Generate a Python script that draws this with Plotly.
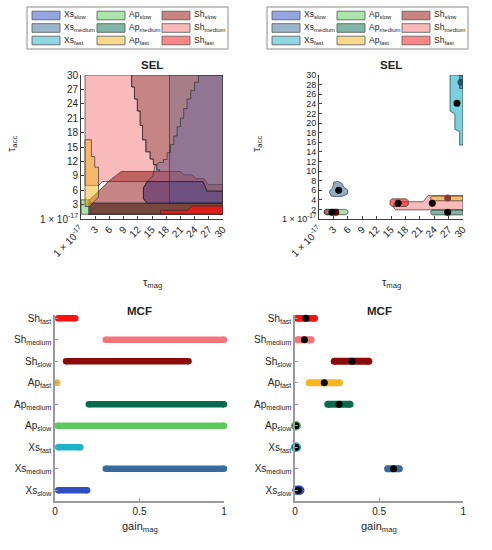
import plotly.graph_objects as go

# series, bottom to top as in the MCF panels
series = ["Xs_slow", "Xs_medium", "Xs_fast", "Ap_slow", "Ap_medium", "Ap_fast",
          "Sh_slow", "Sh_medium", "Sh_fast"]
labels = [s.split("_")[0] + "<sub>" + s.split("_")[1] + "</sub>" for s in series]
colors = {
    "Xs_slow": "#2f4ec6", "Xs_medium": "#3b6b9a", "Xs_fast": "#1eb2c9",
    "Ap_slow": "#5cc95c", "Ap_medium": "#066b4c", "Ap_fast": "#f7b61d",
    "Sh_slow": "#8b0b0b", "Sh_medium": "#f47578", "Sh_fast": "#ff1010",
}

# SEL tick labels
sel_x_ticks = [0, 3, 6, 9, 12, 15, 18, 21, 24, 27, 30]
sel_x_text = ["1 × 10<sup>-17</sup>"] + [str(v) for v in sel_x_ticks[1:]]
sel_left_y_ticks = sel_x_ticks
sel_left_y_text = sel_x_text
sel_right_y_ticks = list(range(0, 31, 2))
sel_right_y_text = ["1 × 10<sup>-17</sup>"] + [str(v) for v in sel_right_y_ticks[1:]]

# SEL left: regions (tau_mag, tau_acc)
stair = [(10.7, 30), (10.7, 27.5), (11.3, 27.5), (11.3, 25), (11.9, 25), (11.9, 22.5),
         (12.5, 22.5), (12.5, 19.5), (13.0, 19.5), (13.0, 16.5), (13.7, 16.5), (13.7, 14),
         (14.6, 14), (14.6, 12.5), (15.3, 12.5), (15.3, 11.3), (16.0, 11.3), (16.0, 10.2),
         (16.6, 10.2), (16.6, 9.9)]
sel_l_sh_medium = [(0.85, 30)] + stair + [
    (21, 9.9), (21.8, 9.2), (23.5, 9.2), (24.3, 8.4), (26, 8.4), (26.8, 7.2), (30, 7.2),
    (30, 5.8), (26.6, 5.8), (25.8, 7.8), (4.6, 7.8), (3.7, 7.0), (0.85, 7.0)]
sel_l_sh_slow = [(8.5, 9.9)] + stair[::-1] + [
    (30, 30), (30, 1.0), (1.6, 1.0), (1.6, 2.4), (0.85, 3.1), (5.8, 7.8)]
sel_l_lower_block = [(13.2, 4.2), (14, 3.3), (30, 3.3), (30, 5.8), (26.6, 5.8), (25.8, 7.8),
                     (14, 7.8), (13.2, 6.5)]
sel_l_sh_slow_low = [(1.6, 1), (30, 1)] + sel_l_lower_block[2:] + sel_l_lower_block[:2] + [
    (1.6, 3.3)]
sel_l_xs_medium = [(18.7, 30), (30, 30), (30, 3.3), (18.7, 3.3)]
sel_l_xs_slow = [(24.8, 30), (30, 30), (30, 3.3), (14, 3.3), (13.2, 4.2), (13.2, 6.5), (14, 7.8),
                 (15.2, 9), (15.6, 11), (16.5, 11.8), (17.4, 11.8), (17.4, 12.4), (18.2, 12.4),
                 (18.2, 13.8), (18.9, 13.8), (18.9, 15.5), (19.6, 15.5), (19.6, 17.3),
                 (20.3, 17.3), (20.3, 19.2), (21, 19.2), (21, 21), (21.7, 21), (21.7, 23),
                 (22.4, 23), (22.4, 25), (23.2, 25), (23.2, 26.8), (24, 26.8), (24, 28.5),
                 (24.8, 28.5)]
sel_l_ap_slow = [(0, 1), (1.9, 1), (1.9, 4.0), (0, 4.0)]
sel_l_ap_fast = [(0.85, 2.6), (0.85, 16.5), (2.2, 16.5), (2.2, 13), (2.9, 13), (2.9, 10.8),
                 (3.7, 10.8), (3.7, 4.6), (1.8, 2.6)]
sel_l_ap_medium = [(1.6, 1), (30, 1), (30, 3.3), (1.6, 3.3)]
sel_l_sh_fast = [(16.8, 1), (30, 1), (30, 2.7), (23.5, 2.7), (22.6, 1.8), (16.8, 1.8)]

sel_left_regions = [
    ("Sh_medium", sel_l_sh_medium, 0.5), ("Sh_slow", sel_l_sh_slow, 0.5),
    ("Ap_medium", sel_l_ap_medium, 0.5), ("Sh_slow", sel_l_sh_slow_low, 0.45),
    ("Xs_medium", sel_l_xs_medium, 0.22), ("Xs_slow", sel_l_xs_slow, 0.17),
    ("Xs_slow", sel_l_lower_block, 0.22),
    ("Ap_slow", sel_l_ap_slow, 0.5), ("Ap_fast", sel_l_ap_fast, 0.5),
    ("Sh_fast", sel_l_sh_fast, 0.75),
]

# SEL right: regions and best points
sel_r_xs_fast = [(27.3, 30), (30, 30), (30, 15.4), (29.3, 15.4), (29.3, 18.2), (28.3, 18.7),
                 (28.3, 21.9), (27.3, 22.5)]
sel_r_xs_slow = [(29.3, 30), (30, 30), (30, 27.2), (29.3, 27.2)]
sel_r_xs_medium = [(2.2, 5.5), (2.5, 4.8), (3.5, 4.65), (4.9, 4.75), (5.9, 5.2), (6.0, 6.0),
                   (5.2, 6.6), (4.8, 7.4), (4.0, 7.8), (3.1, 7.7), (2.8, 6.3), (2.3, 6.0)]
sel_r_ap_slow = [(1.5, 0.9), (5.6, 0.9), (6.0, 1.2), (6.0, 1.7), (5.6, 2.0), (1.5, 2.0),
                 (1.1, 1.7), (1.1, 1.2)]
sel_r_sh_slow = [(1.5, 0.9), (4.0, 0.9), (4.0, 2.0), (1.5, 2.0), (1.1, 1.7), (1.1, 1.2)]
sel_r_sh_medium = [(16.0, 1.9), (30, 1.9), (30, 4.85), (22.7, 4.85), (21.7, 3.6), (16.2, 3.6),
                   (15.6, 3.2), (15.6, 2.3)]
sel_r_sh_fast = [(15.2, 2.6), (18.2, 2.6), (18.6, 3.0), (18.6, 3.8), (18.2, 4.2), (15.2, 4.2),
                 (14.8, 3.8), (14.8, 3.0)]
sel_r_ap_fast = [(23.6, 3.8), (30, 3.8), (30, 4.8), (23.6, 4.8), (23.3, 4.5), (23.3, 4.1)]
sel_r_ap_medium = [(23.6, 0.85), (30, 0.85), (30, 1.9), (23.6, 1.9), (23.3, 1.6), (23.3, 1.15)]

sel_right_regions = [
    ("Xs_fast", sel_r_xs_fast, 0.6), ("Xs_slow", sel_r_xs_slow, 0.5),
    ("Xs_medium", sel_r_xs_medium, 0.55), ("Ap_slow", sel_r_ap_slow, 0.5),
    ("Sh_slow", sel_r_sh_slow, 0.5), ("Sh_medium", sel_r_sh_medium, 0.5),
    ("Sh_fast", sel_r_sh_fast, 0.6), ("Ap_fast", sel_r_ap_fast, 0.55),
    ("Ap_medium", sel_r_ap_medium, 0.5),
]
sel_r_best_x = [28.75, 4.1, 2.7, 16.5, 23.6, 26.8]
sel_r_best_y = [24.1, 6.0, 1.4, 3.3, 3.3, 1.4]
sel_r_best2_x = [29.6, 3.5, 26.8]
sel_r_best2_y = [28.5, 1.4, 4.4]
sel_r_best2_col = ["#1f5566", "#5a0808", "#8a3a3a"]

# MCF ranges of gain_mag (same order as series)
mcf_left_lo = [0.019, 0.30, 0.019, 0.015, 0.20, 0.012, 0.065, 0.30, 0.019]
mcf_left_hi = [0.19, 1.0, 0.15, 1.0, 1.0, 0.012, 0.79, 1.0, 0.12]
mcf_right_lo = [0.012, 0.55, 0.004, 0.004, 0.195, 0.084, 0.233, 0.015, 0.015]
mcf_right_hi = [0.028, 0.62, 0.008, 0.008, 0.327, 0.264, 0.439, 0.096, 0.116]
mcf_right_best = [0.02, 0.586, 0.006, 0.006, 0.262, 0.174, 0.339, 0.056, 0.065]

W, H = 492, 550
FONT = "Liberation Sans, Arial, sans-serif"
TXT = "#262626"


def rgba(c, a):
    c = c.lstrip("#")
    return "rgba(%d,%d,%d,%.2f)" % (int(c[0:2], 16), int(c[2:4], 16), int(c[4:6], 16), a)


def px(x):
    return x / W


def py(y):
    return 1 - y / H


fig = go.Figure()

# SEL polygons
for ax, regions in (("", sel_left_regions), ("2", sel_right_regions)):
    for name, pts, a in regions:
        fig.add_trace(go.Scatter(
            x=[p[0] for p in pts] + [pts[0][0]], y=[p[1] for p in pts] + [pts[0][1]],
            mode="lines", fill="toself", fillcolor=rgba(colors[name], a),
            line=dict(color="rgba(40,40,40,0.8)", width=0.8),
            xaxis="x" + ax, yaxis="y" + ax, hoverinfo="skip", showlegend=False))

fig.add_trace(go.Scatter(x=sel_r_best2_x, y=sel_r_best2_y, mode="markers",
                         marker=dict(size=7, color=sel_r_best2_col),
                         xaxis="x2", yaxis="y2", showlegend=False, hoverinfo="skip"))
fig.add_trace(go.Scatter(x=sel_r_best_x, y=sel_r_best_y, mode="markers",
                         marker=dict(size=7, color="black"),
                         xaxis="x2", yaxis="y2", showlegend=False, hoverinfo="skip"))

# MCF bars
ypos = list(range(1, len(series) + 1))
for i, s in enumerate(series):
    fig.add_trace(go.Scatter(
        x=[mcf_left_lo[i], mcf_left_hi[i]], y=[ypos[i], ypos[i]], mode="lines+markers",
        line=dict(color=colors[s], width=6.5), marker=dict(size=6.5, color=colors[s]),
        cliponaxis=False, xaxis="x3", yaxis="y3", showlegend=False, hoverinfo="skip"))
    dot = 9.5 if mcf_right_hi[i] - mcf_right_lo[i] < 0.02 else 7
    fig.add_trace(go.Scatter(
        x=[mcf_right_lo[i], mcf_right_hi[i]], y=[ypos[i], ypos[i]], mode="lines+markers",
        line=dict(color=colors[s], width=7), marker=dict(size=dot, color=colors[s]),
        cliponaxis=False, xaxis="x4", yaxis="y4", showlegend=False, hoverinfo="skip"))
fig.add_trace(go.Scatter(x=mcf_right_best, y=ypos, mode="markers",
                         marker=dict(size=7, color="black"), cliponaxis=False,
                         xaxis="x4", yaxis="y4", showlegend=False, hoverinfo="skip"))

tick_font = dict(family=FONT, size=10, color=TXT)
sel_ax = dict(range=[0, 30], showgrid=False, zeroline=False, showline=True,
              linecolor="#404040", linewidth=0.8, ticks="inside", ticklen=3,
              tickcolor="#404040", tickfont=tick_font, automargin=False)
mcf_ax = dict(showgrid=False, zeroline=False, showline=True, linecolor="#9a9a9a",
              linewidth=1.5, ticks="inside", ticklen=3, tickcolor="#9a9a9a",
              tickfont=tick_font, automargin=False)

sel_y = [py(219), py(75)]
mcf_y = [py(501), py(315)]

fig.update_layout(
    width=W, height=H, autosize=False, margin=dict(l=0, r=0, t=0, b=0),
    paper_bgcolor="white", plot_bgcolor="rgba(0,0,0,0)",
    font=dict(family=FONT, color=TXT),
    xaxis=dict(sel_ax, domain=[px(81), px(223)], anchor="y", tickvals=sel_x_ticks,
               ticktext=sel_x_text, tickangle=-45),
    yaxis=dict(sel_ax, domain=sel_y, anchor="x", tickvals=sel_left_y_ticks,
               ticktext=sel_left_y_text),
    xaxis2=dict(sel_ax, domain=[px(319), px(463)], anchor="y2", tickvals=sel_x_ticks,
                ticktext=sel_x_text, tickangle=-45),
    yaxis2=dict(sel_ax, domain=sel_y, anchor="x2", tickvals=sel_right_y_ticks,
                ticktext=sel_right_y_text, tickfont=dict(family=FONT, size=9, color=TXT)),
    xaxis3=dict(mcf_ax, domain=[px(55), px(224)], anchor="y3", range=[0, 1],
                tickvals=[0, 0.5, 1], ticktext=["0", "0.5", "1"]),
    yaxis3=dict(mcf_ax, domain=mcf_y, anchor="x3", range=[0.5, 9.15],
                tickvals=ypos, ticktext=labels),
    xaxis4=dict(mcf_ax, domain=[px(295), px(463.3)], anchor="y4", range=[0, 1],
                tickvals=[0, 0.5, 1], ticktext=["0", "0.5", "1"]),
    yaxis4=dict(mcf_ax, domain=mcf_y, anchor="x4", range=[0.5, 9.15],
                tickvals=ypos, ticktext=labels),
)

# titles and axis labels
ann = []
for x in (152, 391):
    ann.append(dict(x=px(x), y=py(65), text="<b>SEL</b>", font=dict(size=11.5)))
    ann.append(dict(x=px(x), y=py(283), text="τ<sub>mag</sub>", font=dict(size=11)))
for x in (139.5, 379):
    ann.append(dict(x=px(x), y=py(311), text="<b>MCF</b>", font=dict(size=11.5)))
    ann.append(dict(x=px(x), y=py(527), text="gain<sub>mag</sub>", font=dict(size=11)))
for x in (12, 257):
    ann.append(dict(x=px(x), y=py(144), text="τ<sub>acc</sub>", font=dict(size=11),
                    textangle=-90))

# legends drawn as boxes with swatches
shapes = []
leg_cols = [["Xs_slow", "Xs_medium", "Xs_fast"], ["Ap_slow", "Ap_medium", "Ap_fast"],
            ["Sh_slow", "Sh_medium", "Sh_fast"]]
for x0 in (27, 267):
    shapes.append(dict(type="rect", xref="paper", yref="paper", x0=px(x0), x1=px(x0 + 201),
                       y0=py(49), y1=py(7), line=dict(color="#8c8c8c", width=1),
                       fillcolor="white", layer="below"))
    for ci, col in enumerate(leg_cols):
        sx = x0 + 5 + ci * 65
        for ri, s in enumerate(col):
            cy = 15.5 + ri * 12.5
            shapes.append(dict(type="rect", xref="paper", yref="paper", x0=px(sx),
                               x1=px(sx + 28), y0=py(cy + 4.3), y1=py(cy - 4.3),
                               line=dict(color="#555555", width=0.8),
                               fillcolor=rgba(colors[s], 0.5)))
            ann.append(dict(x=px(sx + 30), y=py(cy - 0.5), xanchor="left",
                            text=labels[series.index(s)], font=dict(size=8.5)))

for a in ann:
    a.setdefault("xref", "paper")
    a.setdefault("yref", "paper")
    a.setdefault("showarrow", False)
    a.setdefault("yanchor", "middle")
    a.setdefault("xanchor", "center")
    a["font"] = dict(a["font"], family=FONT, color=TXT)

fig.update_layout(annotations=ann, shapes=shapes)

# page without the default body margin and without the mode bar
fig.write_html("out.html", config={"displayModeBar": False},
               post_script="document.body.style.margin = '0px';")
